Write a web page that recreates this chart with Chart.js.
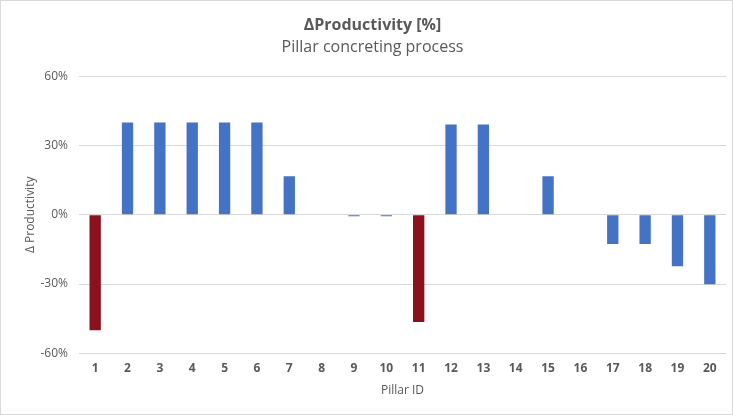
<!DOCTYPE html>
<html>
<head>
<meta charset="utf-8">
<script src="https://cdn.jsdelivr.net/npm/chart.js@4"></script>
<style>
  html, body { margin: 0; padding: 0; background: #fff; }
  #wrap { position: relative; width: 733px; height: 415px; box-sizing: border-box; border: 1px solid #d9d9d9; }
</style>
</head>
<body>
<div id="wrap"><canvas id="chart"></canvas></div>
<script>
// pillar ids and productivity change in %
const pillarIds = ['1','2','3','4','5','6','7','8','9','10','11','12','13','14','15','16','17','18','19','20'];
const deltaProductivity = [-50, 40, 40, 40, 40, 40, 16.7, 0, -0.6, -0.6, -46.5, 39.1, 39.1, 0, 16.7, 0, -12.7, -12.7, -22.3, -30.1];
const highlightedIds = ['1', '11'];
const yTicks = [-60, -30, 0, 30, 60];

const blue = '#4472C4';
const red = '#8B111D';
const grey = '#595959';
const font = "'Open Sans', 'Noto Sans', sans-serif";

const colors = pillarIds.map((id) => (highlightedIds.includes(id) ? red : blue));

const ctx = document.getElementById('chart');
new Chart(ctx, {
    type: 'bar',
    data: {
        labels: pillarIds,
        datasets: [
            {
                label: 'Δ Productivity',
                data: deltaProductivity,
                backgroundColor: colors,
                borderWidth: 0,
                barPercentage: 0.7,
                categoryPercentage: 0.5,
            },
        ],
    },
    options: {
        responsive: true,
        maintainAspectRatio: false,
        animation: false,
        layout: {
            padding: { left: 18, right: 6, top: 8, bottom: 12 },
        },
        plugins: {
            legend: { display: false },
            tooltip: { enabled: false },
            title: {
                display: true,
                text: 'ΔProductivity [%]',
                color: grey,
                font: { family: font, size: 16, weight: 'bold' },
                padding: { top: 7, bottom: 3 },
            },
            subtitle: {
                display: true,
                text: 'Pillar concreting process',
                color: grey,
                font: { family: font, size: 16, weight: 'normal' },
                padding: { top: 0, bottom: 19 },
            },
        },
        scales: {
            x: {
                grid: { display: false },
                border: { display: false },
                ticks: {
                    color: grey,
                    font: { family: font, size: 12, weight: 'bold' },
                    maxRotation: 0,
                    padding: 0,
                },
                title: {
                    display: true,
                    text: 'Pillar ID',
                    color: grey,
                    font: { family: font, size: 12 },
                    padding: { top: 8 },
                },
            },
            y: {
                min: -60,
                max: 60,
                afterBuildTicks: (scale) => {
                    scale.ticks = yTicks.map((v) => ({ value: v }));
                },
                afterFit: (scale) => {
                    scale.width = 60;
                },
                grid: { color: '#d9d9d9', drawTicks: false, lineWidth: 1 },
                border: { display: false },
                ticks: {
                    color: grey,
                    font: { family: font, size: 12 },
                    padding: 11,
                    callback: (v) => v + '%',
                },
                title: {
                    display: true,
                    text: 'Δ Productivity',
                    color: grey,
                    font: { family: font, size: 12 },
                    padding: { bottom: 4 },
                },
            },
        },
    },
});
</script>
</body>
</html>
